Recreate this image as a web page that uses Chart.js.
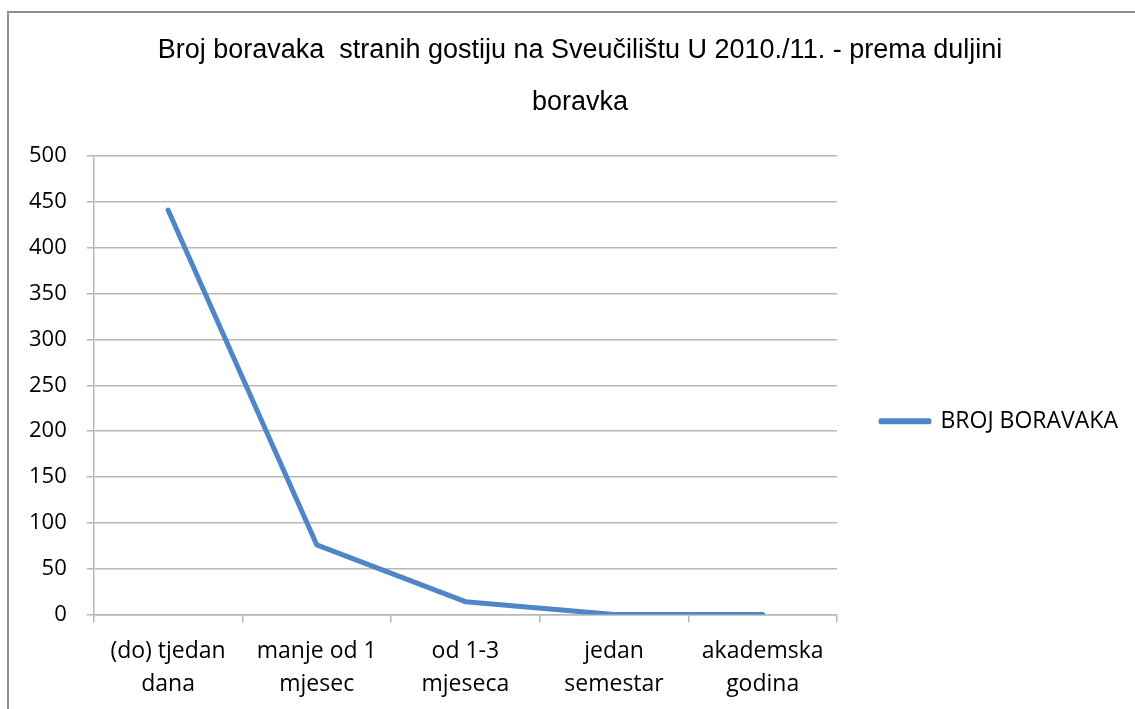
<!DOCTYPE html>
<html>
<head>
<meta charset="utf-8">
<script src="https://cdn.jsdelivr.net/npm/chart.js@4.4.1/dist/chart.umd.min.js"></script>
<style>
  html, body { margin: 0; padding: 0; background: #fff; overflow: hidden; }
  body { width: 1135px; height: 709px; position: relative; }
  .frame {
    position: absolute; left: 7px; top: 11px;
    width: 1160px; height: 720px;
    border-top: 2px solid #8e8e8e; border-left: 2px solid #8e8e8e;
  }
  .frame canvas { position: absolute; left: 0; top: 0; }
</style>
</head>
<body>
<div class="frame">
  <canvas id="stayChart" width="1142" height="708"></canvas>
</div>
<script>
const categories = [
  ['(do) tjedan', 'dana'],
  ['manje od 1', 'mjesec'],
  ['od 1-3', 'mjeseca'],
  ['jedan', 'semestar'],
  ['akademska', 'godina']
];
const stayCounts = [441, 76, 14, 0, 0];
const seriesName = 'BROJ BORAVAKA';
const titleLines = ['Broj boravaka  stranih gostiju na Sveučilištu U 2010./11. - prema duljini', 'boravka'];

const labelFont = '"Open Sans", sans-serif';
const titleFont = '"Liberation Sans", Arial, sans-serif';
const lineColor = '#4f86c6';
const gridColor = '#b8b8b8';

// title is centred over the whole canvas, and the legend may run to the right edge
const fullWidthBoxes = {
  id: 'fullWidthBoxes',
  afterLayout(chart) {
    if (chart.titleBlock) {
      chart.titleBlock.left = 0;
      chart.titleBlock.right = chart.width;
    }
    if (chart.legend) {
      chart.legend.right = chart.width;
      chart.legend.width = chart.width - chart.legend.left;
    }
  }
};

function drawChart() {
  const ctx = document.getElementById('stayChart').getContext('2d');

  new Chart(ctx, {
    type: 'line',
    data: {
      labels: categories,
      datasets: [{
        label: seriesName,
        data: stayCounts,
        borderColor: lineColor,
        backgroundColor: lineColor,
        borderWidth: 5,
        borderCapStyle: 'round',
        borderJoinStyle: 'round',
        tension: 0,
        pointRadius: 0,
        fill: false
      }]
    },
    plugins: [fullWidthBoxes],
    options: {
      responsive: false,
      animation: false,
      layout: { padding: { top: 11.5, right: 38, bottom: 7.5, left: 0 } },
      plugins: {
        tooltip: { enabled: false },
        title: {
          display: true,
          text: titleLines,
          color: '#000',
          font: { family: titleFont, size: 27, weight: 'normal', lineHeight: 52 / 27 },
          padding: { top: 0, bottom: 27.5 }
        },
        legend: {
          position: 'right',
          align: 'center',
          // empty legend title: pushes the entry a little below the plot's middle
          title: { display: true, text: '', padding: { top: 45, bottom: 45 } },
          labels: {
            color: '#000',
            font: { family: labelFont, size: 23 },
            boxWidth: 48,
            boxHeight: 1,
            padding: 44
          }
        }
      },
      scales: {
        y: {
          min: 0,
          max: 500,
          ticks: {
            stepSize: 50,
            color: '#000',
            padding: 20,
            font: { family: labelFont, size: 22 }
          },
          grid: { color: gridColor, lineWidth: 1.5, tickLength: 7 },
          border: { color: gridColor, width: 1.5 }
        },
        x: {
          offset: true,
          ticks: {
            color: '#000',
            padding: 12.5,
            maxRotation: 0,
            font: { family: labelFont, size: 23, lineHeight: 33 / 23 }
          },
          grid: { offset: true, drawOnChartArea: false, color: gridColor, lineWidth: 1.5, tickLength: 8 },
          border: { color: gridColor, width: 1.5 }
        }
      }
    }
  });
}

// make sure text is measured with the real fonts
Promise.all([
  document.fonts.load('23px "Open Sans"'),
  document.fonts.load('27px "Liberation Sans"')
]).catch(() => {}).then(drawChart);
</script>
</body>
</html>
